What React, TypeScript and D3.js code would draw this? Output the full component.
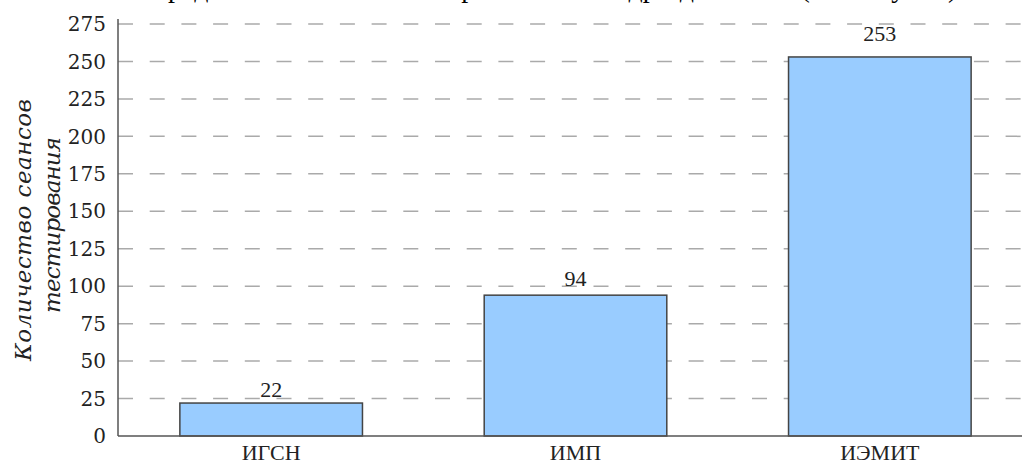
import React from "react";
import * as d3 from "d3";

const categories = ["ИГСН", "ИМП", "ИЭМИТ"];
const values = [22, 94, 253];
const yTicks = [0, 25, 50, 75, 100, 125, 150, 175, 200, 225, 250, 275];
const yLabelLines = ["Количество сеансов", "тестирования"];
const title = "Распределение сеансов тестирования по подразделениям (институтам)";

export default function App() {
  const W = 1022, H = 464;
  const x = d3.scaleBand<string>().domain(categories).range([119, 1032]).paddingInner(0.4).paddingOuter(0.2);
  const y = d3.scaleLinear().domain([0, 275]).range([436, 24]);
  const dv = "'DejaVu Serif', serif";
  const lib = "'Liberation Serif', serif";
  const labelLens = [262, 176];
  return (
    <svg width={W} height={H} style={{ position: "absolute", left: 0, top: 0, background: "#fff" }}>
      <text x={535} y={-3} textAnchor="middle" fontFamily={lib} fontSize={28} fill="#000">{title}</text>
      {yTicks.map(t => (
        <g key={t}>
          {t > 0 && <line x1={118} x2={W} y1={y(t)} y2={y(t)} stroke="#aaa" strokeWidth={1.5} strokeDasharray="15,16.7" />}
          <text x={106} y={y(t)} dy="0.36em" textAnchor="end" fontFamily={dv} fontSize={20} fill="#222">{t}</text>
        </g>
      ))}
      {categories.map((c, i) => (
        <g key={c}>
          <rect x={x(c)!} y={y(values[i])} width={x.bandwidth()} height={y(0) - y(values[i])} fill="#99ccff" stroke="#444" strokeWidth={1.5} />
          <text x={x(c)! + x.bandwidth() / 2} y={y(values[i]) - (5 + values[i] * 0.043)} textAnchor="middle" fontFamily={lib} fontSize={22} fill="#222">{values[i]}</text>
          <text x={x(c)! + x.bandwidth() / 2} y={460} textAnchor="middle" fontFamily={lib} fontSize={22} fill="#222">{c}</text>
        </g>
      ))}
      <line x1={118} x2={118} y1={19} y2={436} stroke="#555" strokeWidth={1.5} />
      <line x1={118} x2={W} y1={436} y2={436} stroke="#555" strokeWidth={1.5} />
      {yLabelLines.map((l, i) => (
        <text key={i} transform={`translate(${31 + i * 29},${230 - i * 5}) rotate(-90)`} textAnchor="middle" textLength={labelLens[i]} lengthAdjust="spacing" fontFamily={dv} fontStyle="italic" fontSize={23} fill="#222">{l}</text>
      ))}
    </svg>
  );
}
